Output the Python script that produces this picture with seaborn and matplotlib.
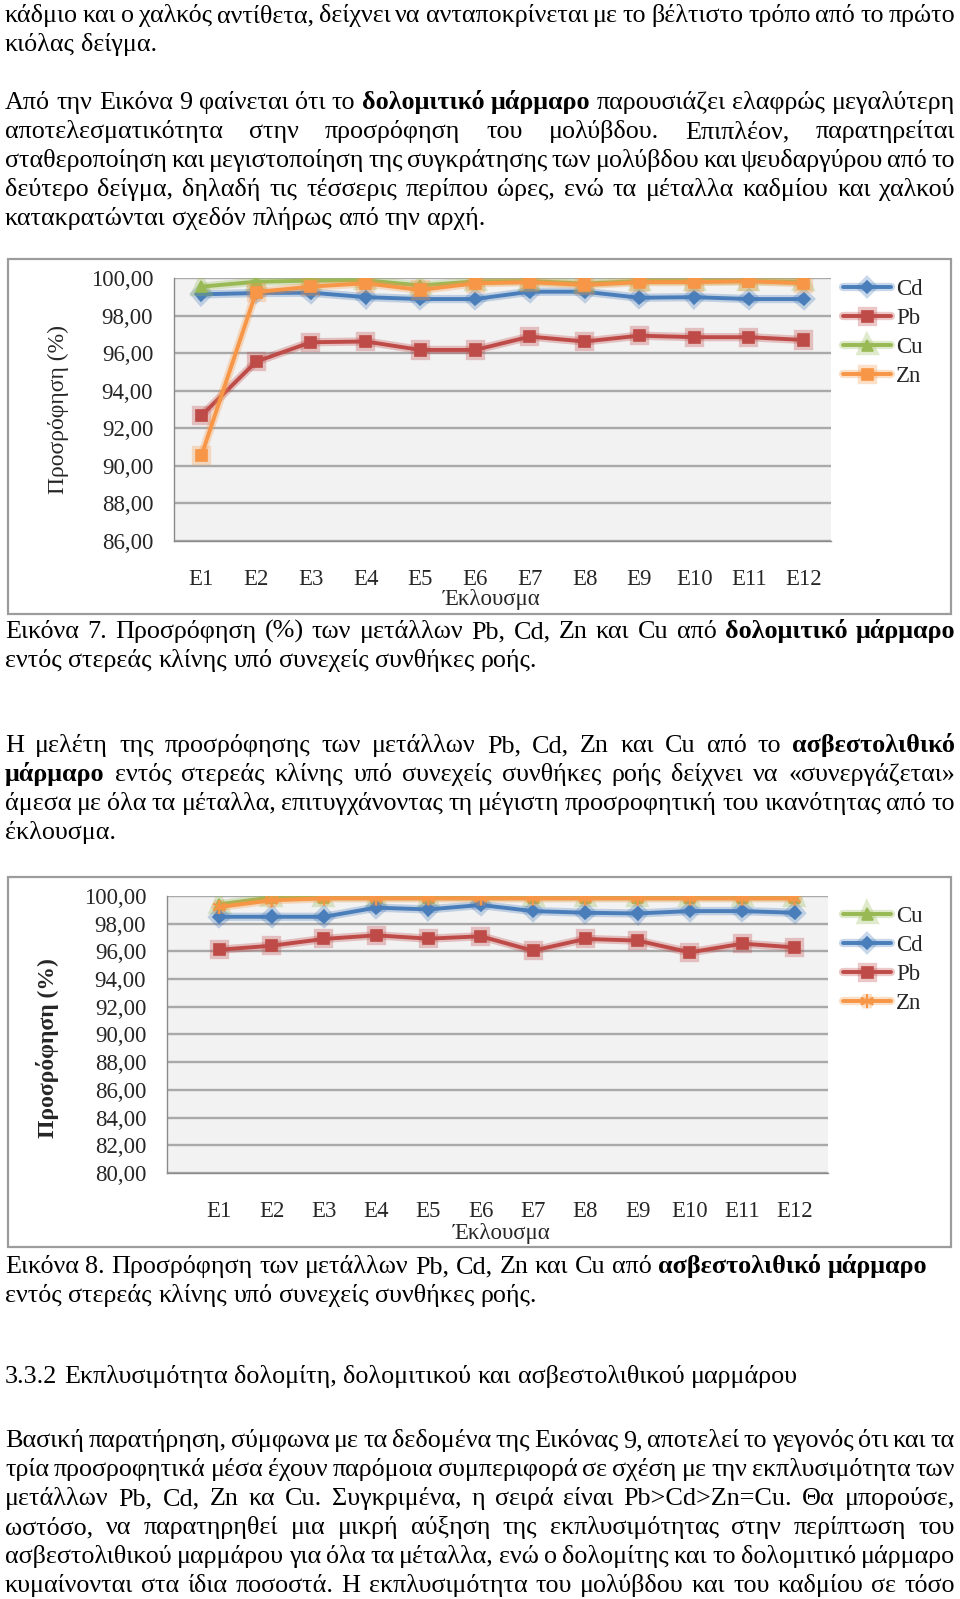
import numpy as np
import seaborn as sns
import matplotlib.pyplot as plt
import matplotlib.patheffects as pe
from matplotlib.patches import Rectangle

W, H = 960, 1599

# chart data
eluates = ['E1', 'E2', 'E3', 'E4', 'E5', 'E6', 'E7', 'E8', 'E9', 'E10', 'E11', 'E12']

# Fig. 7 - dolomitic marble
cd_dolo = [99.13, 99.20, 99.22, 98.98, 98.88, 98.88, 99.27, 99.27, 98.95, 98.98, 98.88, 98.88]
pb_dolo = [92.67, 95.55, 96.58, 96.62, 96.17, 96.17, 96.88, 96.62, 96.93, 96.85, 96.85, 96.70]
cu_dolo = [99.54, 99.80, 99.86, 99.88, 99.60, 99.82, 99.84, 99.70, 99.84, 99.84, 99.84, 99.80]
zn_dolo = [90.54, 99.25, 99.54, 99.72, 99.36, 99.72, 99.78, 99.63, 99.78, 99.78, 99.83, 99.72]

# Fig. 8 - limestone marble
cu_lime = [99.40, 99.90, 99.93, 99.93, 99.93, 99.93, 99.93, 99.93, 99.93, 99.93, 99.93, 99.93]
cd_lime = [98.50, 98.50, 98.50, 99.16, 99.03, 99.35, 98.91, 98.79, 98.74, 98.91, 98.91, 98.79]
pb_lime = [96.12, 96.41, 96.90, 97.16, 96.92, 97.09, 96.05, 96.90, 96.78, 95.93, 96.56, 96.29]
zn_lime = [99.20, 99.69, 99.83, 99.83, 99.83, 99.83, 99.83, 99.83, 99.83, 99.83, 99.83, 99.83]

# page text, ** marks bold
para1 = ['κάδμιο και ο χαλκός αντίθετα, δείχνει να ανταποκρίνεται με το βέλτιστο τρόπο από το πρώτο',
         'κιόλας δείγμα.']
para2 = ['Από την Εικόνα 9 φαίνεται ότι το **δολομιτικό μάρμαρο** παρουσιάζει ελαφρώς μεγαλύτερη',
         'αποτελεσματικότητα στην προσρόφηση του μολύβδου. Επιπλέον, παρατηρείται',
         'σταθεροποίηση και μεγιστοποίηση της συγκράτησης των μολύβδου και ψευδαργύρου από το',
         'δεύτερο δείγμα, δηλαδή τις τέσσερις περίπου ώρες, ενώ τα μέταλλα καδμίου και χαλκού',
         'κατακρατώνται σχεδόν πλήρως από την αρχή.']
caption7 = ['Εικόνα 7. Προσρόφηση (%) των μετάλλων Pb, Cd, Zn και Cu από **δολομιτικό μάρμαρο**',
            'εντός στερεάς κλίνης υπό συνεχείς συνθήκες ροής.']
para3 = ['Η μελέτη της προσρόφησης των μετάλλων Pb, Cd, Zn και Cu από το **ασβεστολιθικό**',
         '**μάρμαρο** εντός στερεάς κλίνης υπό συνεχείς συνθήκες ροής δείχνει  να «συνεργάζεται»',
         'άμεσα με όλα τα μέταλλα, επιτυγχάνοντας τη μέγιστη προσροφητική του ικανότητας από το',
         'έκλουσμα.']
caption8 = ['Εικόνα 8. Προσρόφηση των μετάλλων Pb, Cd, Zn και Cu από **ασβεστολιθικό μάρμαρο**',
            'εντός στερεάς κλίνης υπό συνεχείς συνθήκες ροής.']
heading = ['3.3.2 Εκπλυσιμότητα δολομίτη, δολομιτικού και ασβεστολιθικού μαρμάρου']
para4 = ['Βασική παρατήρηση, σύμφωνα με τα δεδομένα της Εικόνας 9, αποτελεί το γεγονός ότι και τα',
         'τρία προσροφητικά μέσα έχουν παρόμοια συμπεριφορά σε σχέση με την εκπλυσιμότητα των',
         'μετάλλων Pb, Cd, Zn κα Cu. Συγκριμένα, η σειρά είναι Pb>Cd>Zn=Cu. Θα μπορούσε,',
         'ωστόσο, να παρατηρηθεί μια μικρή αύξηση της εκπλυσιμότητας στην περίπτωση του',
         'ασβεστολιθικού μαρμάρου για όλα τα μέταλλα, ενώ ο δολομίτης και το δολομιτικό μάρμαρο',
         'κυμαίνονται στα ίδια ποσοστά. Η εκπλυσιμότητα του μολύβδου και του καδμίου σε τόσο']

BLUE, RED, GREEN, ORANGE = '#4a7ebb', '#be4b48', '#98b954', '#f79646'

sns.set_style('white')
plt.rcParams['font.family'] = ['Liberation Serif', 'DejaVu Serif']

fig = plt.figure(figsize=(W / 100, H / 100), dpi=100)
renderer = fig.canvas.get_renderer()


def fx(x):
    return x / W


def fy(y):
    return 1 - y / H


def split_words(line):
    out = []
    for i, part in enumerate(line.split('**')):
        for w in part.split():
            out.append((w, i % 2 == 1))
    return out


def word_width(word, bold, size):
    t = fig.text(0, 0, word, fontsize=size, fontweight='bold' if bold else 'normal')
    w = t.get_window_extent(renderer).width
    t.remove()
    return w


LEFT, RIGHT = 5, 955

# pick a body size so the justified lines fit the column
BODY = 19.5
widest = 0
for line in para1[:1] + para2[:4] + caption7[:1] + para3[:3] + para4:
    ws = split_words(line)
    tot = sum(word_width(w, b, BODY) for w, b in ws) + (len(ws) - 1) * 0.15 * BODY * 100 / 72
    widest = max(widest, tot)
if widest > RIGHT - LEFT:
    BODY = BODY * (RIGHT - LEFT) / widest


def put_lines(lines, first_base, n_justified, step=29):
    for k, line in enumerate(lines):
        y = first_base + k * step
        ws = split_words(line)
        widths = [word_width(w, b, BODY) for w, b in ws]
        if k < n_justified and len(ws) > 1:
            gap = (RIGHT - LEFT - sum(widths)) / (len(ws) - 1)
        else:
            gap = 0.25 * BODY * 100 / 72
        x = LEFT
        for (w, b), wd in zip(ws, widths):
            fig.text(fx(x), fy(y), w, fontsize=BODY, fontweight='bold' if b else 'normal',
                     ha='left', va='baseline', color='black')
            x += wd + gap


put_lines(para1, 22, 1)
put_lines(para2, 109, 4)
put_lines(caption7, 638, 1)
put_lines(para3, 752, 3)
put_lines(caption8, 1273, 0)
put_lines(heading, 1383, 0)
put_lines(para4, 1447, 6)


def frame(x0, y0, x1, y1):
    fig.add_artist(Rectangle((fx(x0), fy(y1)), fx(x1) - fx(x0), fy(y0) - fy(y1),
                             transform=fig.transFigure, fill=False,
                             edgecolor='#9c9c9c', linewidth=1.6))


def draw_chart(box, xlim, ylim, series, legend_xy, ylabel_xy, xlabel_xy, ylabel_bold):
    x0, y0, x1, y1 = box
    ax = fig.add_axes([fx(x0), fy(y1), (x1 - x0) / W, (y1 - y0) / H])
    ax.set_facecolor('#f2f2f2')
    pos = np.arange(len(eluates))
    for name, vals, color, marker, ms in series:
        sns.lineplot(x=pos, y=vals, ax=ax, color=color, marker=marker, markersize=ms,
                     linewidth=2.8, markeredgecolor=color, markeredgewidth=1.2,
                     label=name,
                     path_effects=[pe.Stroke(linewidth=6, foreground=color, alpha=0.3),
                                   pe.Normal()])
    handles, labels = ax.get_legend_handles_labels()
    if ax.get_legend() is not None:
        ax.get_legend().remove()

    ax.set_xlim(*xlim)
    ax.set_ylim(*ylim)
    yt = np.arange(ylim[0], ylim[1] + 1, 2)
    ax.set_yticks(yt, [f'{v:.2f}'.replace('.', ',') for v in yt])
    ax.set_xticks(np.arange(-0.5, len(eluates), 1), [''] * (len(eluates) + 1))
    ax.set_xticks(pos, eluates, minor=True)
    ax.yaxis.grid(True, color='#a9a9a9', linewidth=1.7)
    ax.xaxis.grid(False)
    ax.set_axisbelow(True)
    for s in ['top', 'right']:
        ax.spines[s].set_visible(False)
    for s in ['left', 'bottom']:
        ax.spines[s].set_color('#8a8a8a')
        ax.spines[s].set_linewidth(1.0)
    ax.tick_params(axis='y', length=5, color='#8a8a8a', labelsize=16.5, pad=10)
    ax.tick_params(axis='x', which='major', length=6, color='#8a8a8a', direction='out')
    ax.tick_params(axis='x', which='minor', length=0, labelsize=16.5, pad=20)
    ax.set_xlabel('')
    ax.set_ylabel('')

    fig.text(fx(xlabel_xy[0]), fy(xlabel_xy[1]), 'Έκλουσμα', fontsize=16.5,
             ha='center', va='center')
    fig.text(fx(ylabel_xy[0]), fy(ylabel_xy[1]), 'Προσρόφηση (%)', fontsize=17,
             rotation=90, ha='center', va='center',
             fontweight='bold' if ylabel_bold else 'normal')
    fig.legend(handles, labels, loc='upper left',
               bbox_to_anchor=(fx(legend_xy[0]), fy(legend_xy[1])),
               bbox_transform=fig.transFigure, frameon=False, fontsize=16.5,
               borderpad=0, borderaxespad=0, labelspacing=0.35,
               handlelength=2.1, handletextpad=0.22)
    return ax


# Fig. 7
frame(8, 259, 951, 614)
draw_chart((174, 278, 831, 541), (-0.5, 11.5), (86, 100),
           [('Cd', cd_dolo, BLUE, 'D', 6.5),
            ('Pb', pb_dolo, RED, 's', 8),
            ('Cu', cu_dolo, GREEN, '^', 8),
            ('Zn', zn_dolo, ORANGE, 's', 8)],
           legend_xy=(843, 279), ylabel_xy=(58, 410), xlabel_xy=(492, 599),
           ylabel_bold=False)

# Fig. 8
frame(8, 877, 951, 1247)
draw_chart((167, 896, 828, 1173), (-1.0, 11.64), (80, 100),
           [('Cu', cu_lime, GREEN, '^', 8),
            ('Cd', cd_lime, BLUE, 'D', 6.5),
            ('Pb', pb_lime, RED, 's', 8),
            ('Zn', zn_lime, ORANGE, (6, 2, 0), 10)],
           legend_xy=(843, 906), ylabel_xy=(48, 1048), xlabel_xy=(502, 1233),
           ylabel_bold=True)

fig.savefig('out.png', dpi=100)
